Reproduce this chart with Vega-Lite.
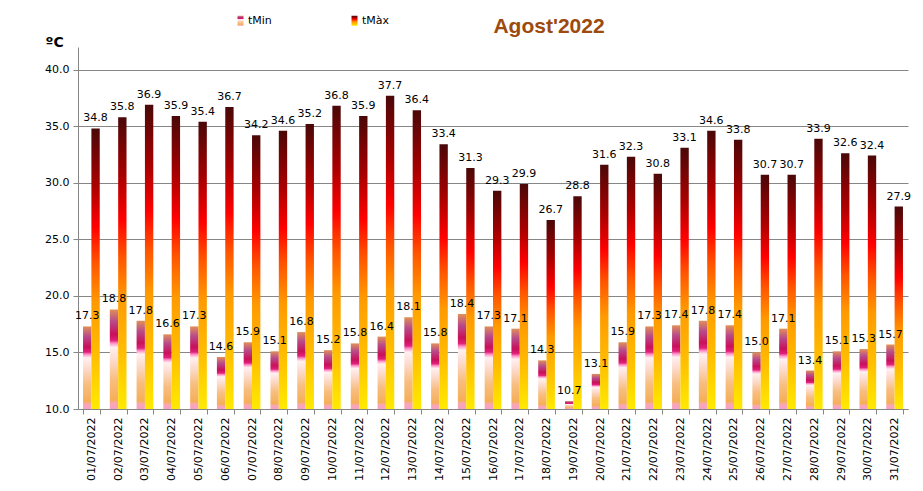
{
  "$schema": "https://vega.github.io/schema/vega-lite/v6.json",
  "width": 830,
  "height": 362,
  "autosize": {"type": "none"},
  "padding": {"left": 78, "top": 47, "right": 15, "bottom": 82},
  "background": "white",
  "config": {"view": {"stroke": null}, "font": "DejaVu Sans"},
  "title": {"text": "Agost'2022", "font": "Liberation Sans", "fontSize": 21, "fontWeight": "bold", "color": "#9C4A0E", "anchor": "middle", "dx": 56, "offset": -22},
  "data": {"values": [
    {"date": "01/07/2022", "series": "tMin", "value": 17.3}, {"date": "01/07/2022", "series": "tMàx", "value": 34.8},
    {"date": "02/07/2022", "series": "tMin", "value": 18.8}, {"date": "02/07/2022", "series": "tMàx", "value": 35.8},
    {"date": "03/07/2022", "series": "tMin", "value": 17.8}, {"date": "03/07/2022", "series": "tMàx", "value": 36.9},
    {"date": "04/07/2022", "series": "tMin", "value": 16.6}, {"date": "04/07/2022", "series": "tMàx", "value": 35.9},
    {"date": "05/07/2022", "series": "tMin", "value": 17.3}, {"date": "05/07/2022", "series": "tMàx", "value": 35.4},
    {"date": "06/07/2022", "series": "tMin", "value": 14.6}, {"date": "06/07/2022", "series": "tMàx", "value": 36.7},
    {"date": "07/07/2022", "series": "tMin", "value": 15.9}, {"date": "07/07/2022", "series": "tMàx", "value": 34.2},
    {"date": "08/07/2022", "series": "tMin", "value": 15.1}, {"date": "08/07/2022", "series": "tMàx", "value": 34.6},
    {"date": "09/07/2022", "series": "tMin", "value": 16.8}, {"date": "09/07/2022", "series": "tMàx", "value": 35.2},
    {"date": "10/07/2022", "series": "tMin", "value": 15.2}, {"date": "10/07/2022", "series": "tMàx", "value": 36.8},
    {"date": "11/07/2022", "series": "tMin", "value": 15.8}, {"date": "11/07/2022", "series": "tMàx", "value": 35.9},
    {"date": "12/07/2022", "series": "tMin", "value": 16.4}, {"date": "12/07/2022", "series": "tMàx", "value": 37.7},
    {"date": "13/07/2022", "series": "tMin", "value": 18.1}, {"date": "13/07/2022", "series": "tMàx", "value": 36.4},
    {"date": "14/07/2022", "series": "tMin", "value": 15.8}, {"date": "14/07/2022", "series": "tMàx", "value": 33.4},
    {"date": "15/07/2022", "series": "tMin", "value": 18.4}, {"date": "15/07/2022", "series": "tMàx", "value": 31.3},
    {"date": "16/07/2022", "series": "tMin", "value": 17.3}, {"date": "16/07/2022", "series": "tMàx", "value": 29.3},
    {"date": "17/07/2022", "series": "tMin", "value": 17.1}, {"date": "17/07/2022", "series": "tMàx", "value": 29.9},
    {"date": "18/07/2022", "series": "tMin", "value": 14.3}, {"date": "18/07/2022", "series": "tMàx", "value": 26.7},
    {"date": "19/07/2022", "series": "tMin", "value": 10.7}, {"date": "19/07/2022", "series": "tMàx", "value": 28.8},
    {"date": "20/07/2022", "series": "tMin", "value": 13.1}, {"date": "20/07/2022", "series": "tMàx", "value": 31.6},
    {"date": "21/07/2022", "series": "tMin", "value": 15.9}, {"date": "21/07/2022", "series": "tMàx", "value": 32.3},
    {"date": "22/07/2022", "series": "tMin", "value": 17.3}, {"date": "22/07/2022", "series": "tMàx", "value": 30.8},
    {"date": "23/07/2022", "series": "tMin", "value": 17.4}, {"date": "23/07/2022", "series": "tMàx", "value": 33.1},
    {"date": "24/07/2022", "series": "tMin", "value": 17.8}, {"date": "24/07/2022", "series": "tMàx", "value": 34.6},
    {"date": "25/07/2022", "series": "tMin", "value": 17.4}, {"date": "25/07/2022", "series": "tMàx", "value": 33.8},
    {"date": "26/07/2022", "series": "tMin", "value": 15.0}, {"date": "26/07/2022", "series": "tMàx", "value": 30.7},
    {"date": "27/07/2022", "series": "tMin", "value": 17.1}, {"date": "27/07/2022", "series": "tMàx", "value": 30.7},
    {"date": "28/07/2022", "series": "tMin", "value": 13.4}, {"date": "28/07/2022", "series": "tMàx", "value": 33.9},
    {"date": "29/07/2022", "series": "tMin", "value": 15.1}, {"date": "29/07/2022", "series": "tMàx", "value": 32.6},
    {"date": "30/07/2022", "series": "tMin", "value": 15.3}, {"date": "30/07/2022", "series": "tMàx", "value": 32.4},
    {"date": "31/07/2022", "series": "tMin", "value": 15.7}, {"date": "31/07/2022", "series": "tMàx", "value": 27.9}
  ]},
  "encoding": {
    "x": {
      "field": "date", "type": "ordinal", "sort": null,
      "scale": {"paddingInner": 0.376, "paddingOuter": 0.188},
      "axis": {"title": null, "labelAngle": -90, "tickBand": "extent", "tickSize": 5, "labelPadding": 3, "domainColor": "#868686", "tickColor": "#868686", "labelFontSize": 11, "labelColor": "black", "labelFont": "DejaVu Sans", "grid": false}
    },
    "xOffset": {"field": "series", "type": "nominal", "sort": ["tMin", "tMàx"], "scale": {"paddingInner": 0, "paddingOuter": 0}},
    "y": {
      "field": "value", "type": "quantitative", "stack": null,
      "scale": {"domain": [10, 42], "nice": false, "zero": false},
      "axis": {"values": [10, 15, 20, 25, 30, 35, 40], "format": ".1f", "grid": true, "gridColor": "#868686", "domainColor": "#868686", "tickColor": "#868686", "tickSize": 5, "labelPadding": 4, "labelFontSize": 11, "labelColor": "black", "labelFont": "DejaVu Sans", "title": "ºC", "titleAngle": 0, "titleX": -33, "titleY": -5, "titleAlign": "left", "titleBaseline": "middle", "titleFontSize": 14, "titleFontWeight": "bold", "titleFont": "DejaVu Sans", "titleColor": "black"}
    }
  },
  "layer": [
    {
      "mark": {"type": "bar"},
      "encoding": {
        "fill": {
          "field": "series", "type": "nominal",
          "scale": {"domain": ["tMin", "tMàx"], "range": [
            {"expr": "{gradient:'linear',x1:0,y1:1,x2:0,y2:0,stops:[{offset:0,color:'#F8A0C8'},{offset:0.06,color:'#F8A8B0'},{offset:0.09,color:'#F5AE58'},{offset:0.3,color:'#F8BE80'},{offset:0.5,color:'#FCDCD0'},{offset:0.62,color:'#FFF0F0'},{offset:0.66,color:'#FF90C8'},{offset:0.69,color:'#E0207A'},{offset:0.75,color:'#C8105A'},{offset:0.88,color:'#B84A8A'},{offset:1,color:'#E09058'}]}"},
            {"expr": "{gradient:'linear',x1:0,y1:1,x2:0,y2:0,stops:[{offset:0,color:'#FFEA00'},{offset:0.2,color:'#FFBC00'},{offset:0.38,color:'#FF9A00'},{offset:0.52,color:'#FF5500'},{offset:0.65,color:'#FF0000'},{offset:0.8,color:'#A80000'},{offset:1,color:'#4A0808'}]}"}
          ]},
          "legend": {"title": null, "orient": "none", "legendX": 157, "legendY": -32, "direction": "horizontal", "columns": 2, "columnPadding": 77, "symbolType": "M-0.6,-1H0.6V1H-0.6Z", "symbolSize": 100, "symbolStrokeWidth": 0, "labelFontSize": 11, "labelFont": "DejaVu Sans", "labelColor": "black", "labelOffset": 2}
        }
      }
    },
    {
      "mark": {"type": "text", "baseline": "alphabetic", "dy": -7, "fontSize": 11, "font": "DejaVu Sans", "color": "black"},
      "encoding": {"text": {"field": "value", "type": "quantitative", "format": ".1f"}}
    }
  ]
}
